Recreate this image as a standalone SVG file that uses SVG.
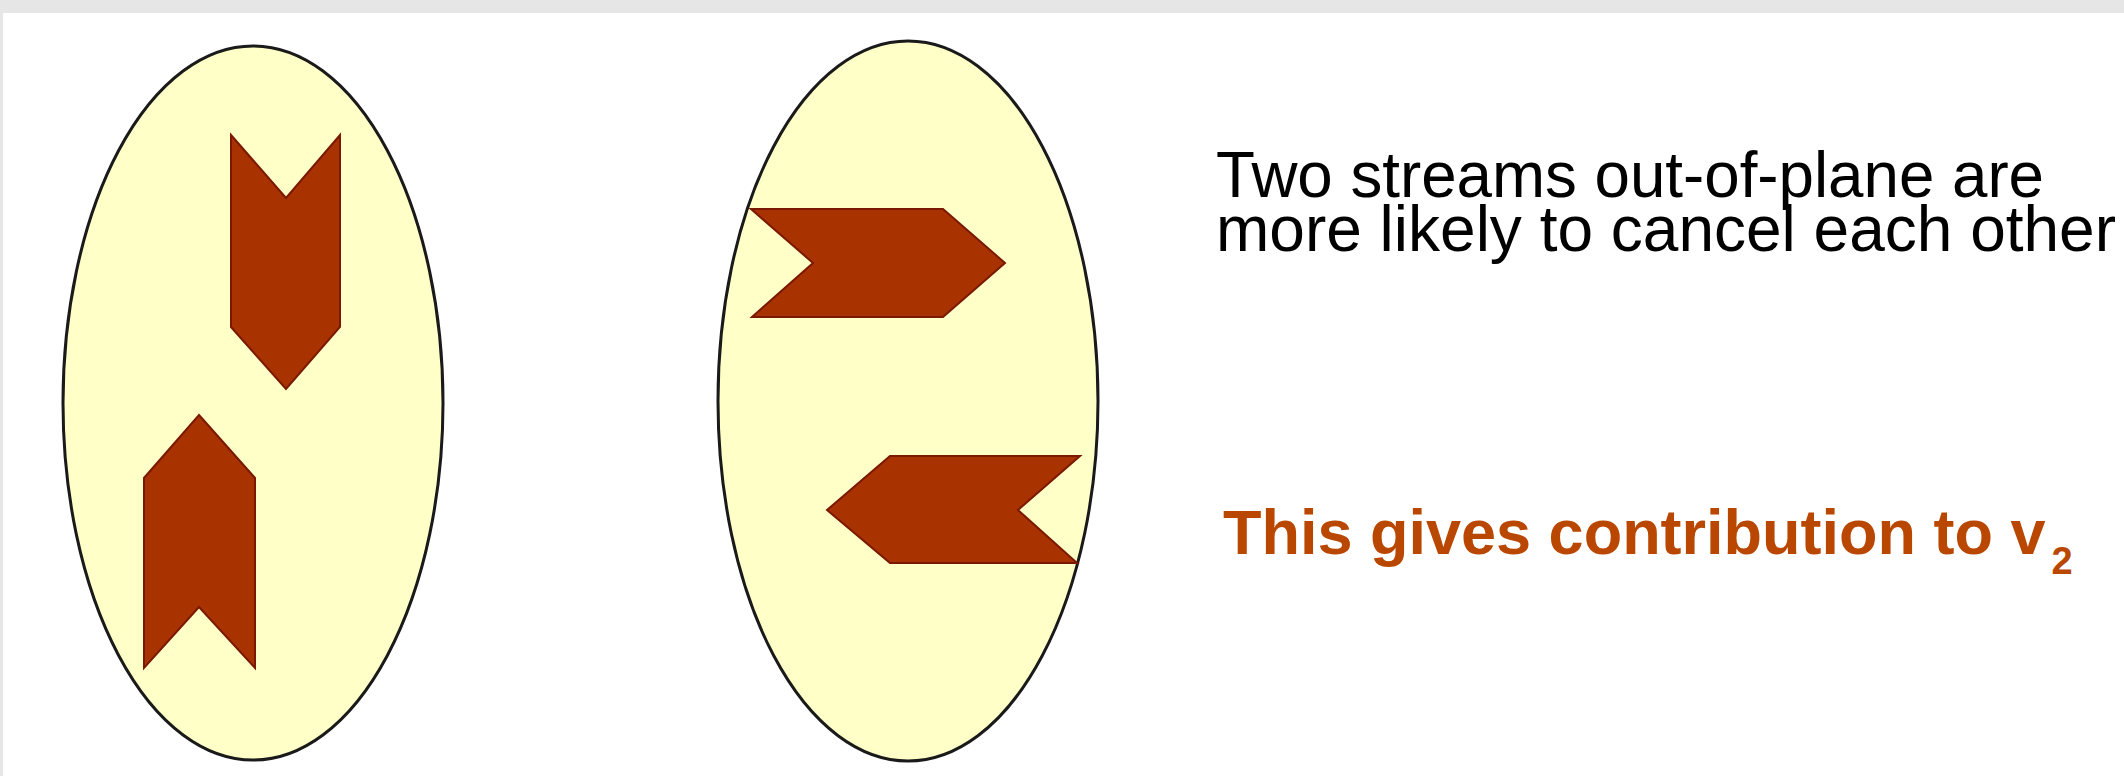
<svg xmlns="http://www.w3.org/2000/svg" width="2124" height="776" viewBox="0 0 2124 776">
<style>
.oval{fill:#FFFFC8;stroke:#1A1A1A;stroke-width:3}
.stream{fill:#A83300;stroke:#7A1800;stroke-width:2;stroke-linejoin:miter}
.txt{font-family:"Liberation Sans",Arial,sans-serif;font-size:64px;fill:#000}
.hl{font-family:"Liberation Sans",Arial,sans-serif;font-size:63px;font-weight:bold;fill:#B94700}
</style>
<rect x="0" y="0" width="2124" height="776" fill="#E6E6E6"/>
<rect x="3" y="13" width="2121" height="763" fill="#FFFFFF"/>
<g id="ellipse-left">
<ellipse class="oval" cx="253" cy="403" rx="190" ry="357"/>
<polygon class="stream" points="231,135 286,198 340,135 340,327 286,389 231,327"/>
<polygon class="stream" points="199,415 255,478 255,668 199,607 144,668 144,478"/>
</g>
<g id="ellipse-right">
<ellipse class="oval" cx="908" cy="401" rx="190" ry="360"/>
<polygon class="stream" points="751,209 943,209 1005,263 943,317 752,317 813,263"/>
<polygon class="stream" points="827,510 890,456 1080,456 1018,510 1077,563 890,563"/>
</g>
<g id="connectors"></g>
<g id="text-main">
<text class="txt" x="1216" y="197" textLength="828" lengthAdjust="spacingAndGlyphs">Two streams out-of-plane are</text>
<text class="txt" x="1216" y="251">more likely to cancel each other</text>
</g>
<g id="text-v2">
<text class="hl" x="1223" y="554">This gives contribution to v<tspan font-size="38" dx="6" dy="20">2</tspan></text>
</g>
</svg>
